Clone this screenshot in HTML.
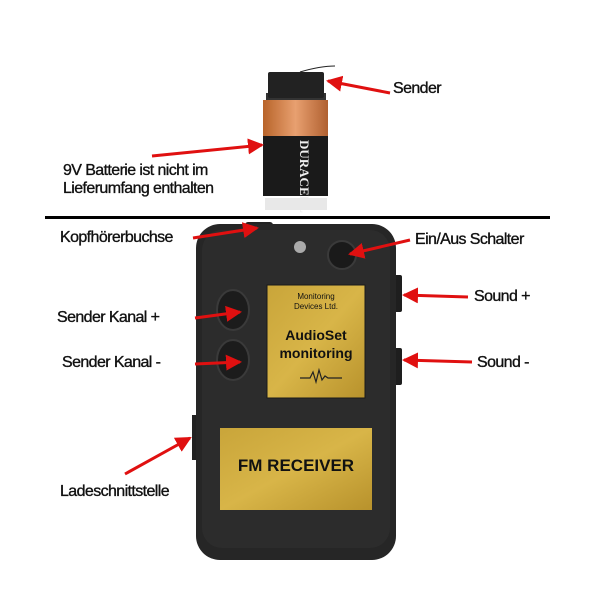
<!DOCTYPE html><html><head><style>
body{margin:0;background:#fff;width:600px;height:600px;position:relative;overflow:hidden;font-family:"Liberation Sans",Arial,sans-serif}
.t{position:absolute;font-size:16px;line-height:18px;color:#111;letter-spacing:-0.6px;white-space:nowrap;-webkit-text-stroke:0.35px #111}
</style></head><body>
<svg width="600" height="600" style="position:absolute;left:0;top:0">
<defs>
<linearGradient id="or" x1="0" x2="1"><stop offset="0" stop-color="#b8642a"/><stop offset="0.5" stop-color="#e8a070"/><stop offset="1" stop-color="#b06030"/></linearGradient>
<linearGradient id="gd" x1="0" y1="0" x2="1" y2="1"><stop offset="0" stop-color="#c9a53a"/><stop offset="0.5" stop-color="#d8b548"/><stop offset="1" stop-color="#b8922c"/></linearGradient>
<marker id="b" markerWidth="16" markerHeight="16" refX="14" refY="8" orient="auto" markerUnits="userSpaceOnUse"><path d="M0,0 L16,8 L0,16 z" fill="#e01010"/></marker>
</defs>
<path d="M300,72 Q320,66 335,66" stroke="#222" fill="none" stroke-width="1"/>
<rect x="266" y="93" width="60" height="12" fill="#333"/>
<rect x="263" y="100" width="65" height="38" fill="url(#or)"/>
<rect x="263" y="136" width="65" height="60" fill="#1a1a1a"/>
<text x="300" y="140" transform="rotate(90 300 140)" font-family="Liberation Serif" font-weight="bold" font-size="13" fill="#f0f0f0">DURACELL</text>
<rect x="265" y="198" width="62" height="12" fill="#e8e8e8"/>
<rect x="268" y="72" width="56" height="26" rx="2" fill="#222"/>
<rect x="45" y="216" width="505" height="3" fill="#000"/>
<rect x="192" y="415" width="6" height="45" fill="#222"/>
<rect x="392" y="275" width="10" height="37" rx="2" fill="#1e1e1e"/>
<rect x="392" y="348" width="10" height="37" rx="2" fill="#1e1e1e"/>
<rect x="245" y="222" width="28" height="8" rx="3" fill="#222"/>
<rect x="196" y="224" width="200" height="336" rx="24" fill="#262626"/>
<rect x="202" y="230" width="188" height="318" rx="20" fill="#2c2c2c"/>
<circle cx="300" cy="247" r="6" fill="#aaa"/>
<circle cx="342" cy="255" r="14" fill="#1a1a1a" stroke="#3a3a3a" stroke-width="2"/>
<ellipse cx="233" cy="310" rx="16" ry="20" fill="#1c1c1c" stroke="#3a3a3a" stroke-width="2"/>
<ellipse cx="233" cy="360" rx="16" ry="20" fill="#1c1c1c" stroke="#3a3a3a" stroke-width="2"/>
<rect x="267" y="285" width="98" height="113" fill="url(#gd)" stroke="#1a1a1a"/>
<path d="M300,378 h10 l3,-6 l3,10 l3,-12 l3,10 l3,-4 l3,2 h14" stroke="#222" fill="none" stroke-width="1.2"/>
<rect x="220" y="428" width="152" height="82" fill="url(#gd)"/>
<g stroke="#e01010" stroke-width="3" fill="none">
<line x1="390" y1="93" x2="328" y2="81" marker-end="url(#b)"/>
<line x1="152" y1="156" x2="262" y2="145" marker-end="url(#b)"/>
<line x1="193" y1="238" x2="257" y2="228" marker-end="url(#b)"/>
<line x1="410" y1="240" x2="350" y2="254" marker-end="url(#b)"/>
<line x1="468" y1="297" x2="404" y2="295" marker-end="url(#b)"/>
<line x1="472" y1="362" x2="404" y2="360" marker-end="url(#b)"/>
<line x1="195" y1="318" x2="240" y2="312" marker-end="url(#b)"/>
<line x1="195" y1="364" x2="240" y2="362" marker-end="url(#b)"/>
<line x1="125" y1="474" x2="190" y2="438" marker-end="url(#b)"/>
</g>
</svg>
<div class="t" style="left:393px;top:80px">Sender</div>
<div class="t" style="left:63px;top:162px">9V Batterie ist nicht im</div>
<div class="t" style="left:63px;top:180px">Lieferumfang enthalten</div>
<div class="t" style="left:60px;top:229px">Kopfhörerbuchse</div>
<div class="t" style="left:415px;top:231px">Ein/Aus Schalter</div>
<div class="t" style="left:474px;top:288px">Sound +</div>
<div class="t" style="left:57px;top:309px">Sender Kanal +</div>
<div class="t" style="left:62px;top:354px">Sender Kanal -</div>
<div class="t" style="left:477px;top:354px">Sound -</div>
<div class="t" style="left:60px;top:483px">Ladeschnittstelle</div>
<div class="t" style="left:267px;top:292px;width:98px;text-align:center;font-size:8px;line-height:10px;-webkit-text-stroke:0;letter-spacing:0">Monitoring<br>Devices Ltd.</div>
<div class="t" style="left:267px;top:326px;width:98px;text-align:center;font-size:14px;font-weight:bold;line-height:18px;-webkit-text-stroke:0;letter-spacing:0">AudioSet<br>monitoring</div>
<div class="t" style="left:220px;top:457px;width:152px;text-align:center;font-size:17px;font-weight:bold;-webkit-text-stroke:0;letter-spacing:0">FM RECEIVER</div>
</body></html>
